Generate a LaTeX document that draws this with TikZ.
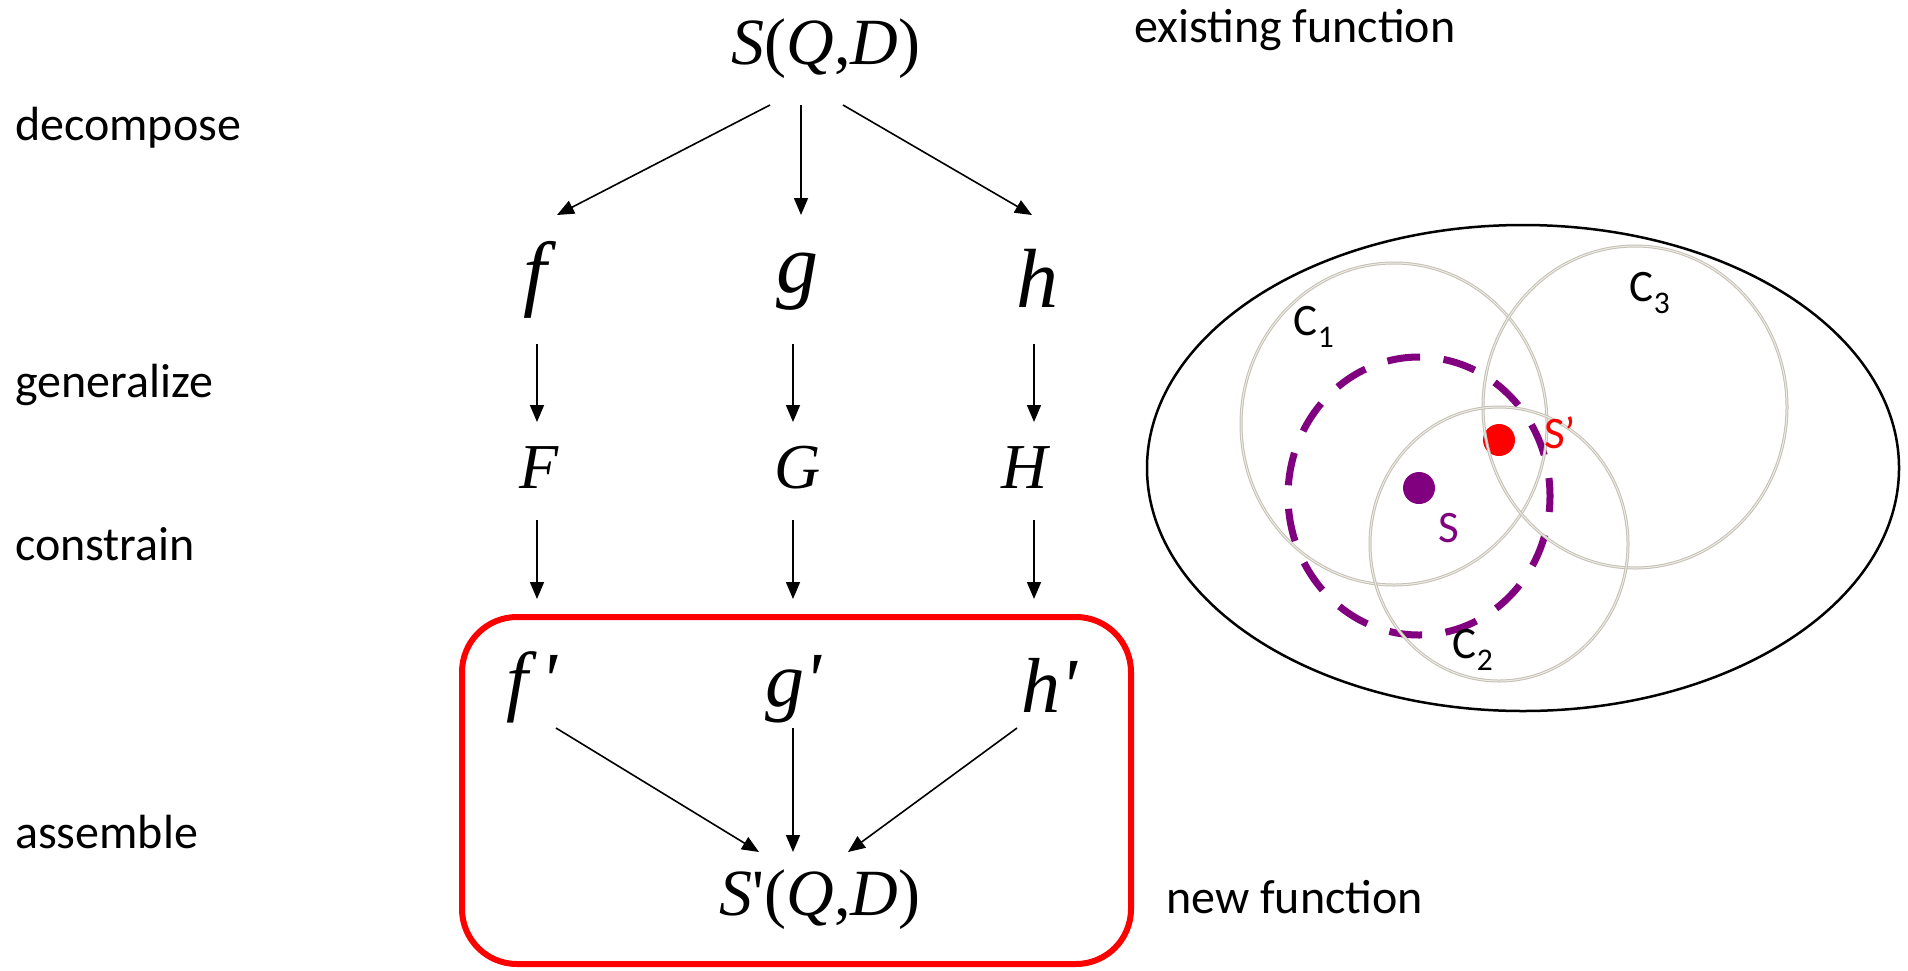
\documentclass[tikz,border=0pt]{standalone}
\usepackage{fontspec}
\setmainfont{Carlito}
\newfontfamily\timesfont{Liberation Serif}
\usetikzlibrary{calc,arrows.meta}
\definecolor{SetPurple}{RGB}{128,0,128}
\definecolor{BoxRed}{RGB}{255,0,0}
\definecolor{SetGray}{RGB}{196,192,182}
\definecolor{SetLight}{RGB}{238,236,228}
\tikzset{
  stage/.style={anchor=west,inner sep=0pt,font=\fontsize{48}{58}\selectfont},
  note/.style={anchor=west,inner sep=0pt,font=\fontsize{48}{58}\selectfont},
  whole/.style={inner sep=0pt,font=\fontsize{66}{80}\selectfont,execute at begin node=\timesfont},
  part/.style={inner sep=0pt,font=\fontsize{84}{96}\selectfont,execute at begin node=\timesfont\itshape},
  gen/.style={inner sep=0pt,font=\fontsize{64}{76}\selectfont,execute at begin node=\timesfont\itshape},
  newpart/.style={inner sep=0pt,font=\fontsize{78}{90}\selectfont,execute at begin node=\timesfont\itshape},
  arr/.style={-{Triangle[length=17pt,width=14pt]},line width=1.6pt},
  newbox/.style={draw=BoxRed,line width=6pt,rounded corners=55pt},
  space/.style={draw=black,line width=2.5pt},
  cset/.style={draw=SetGray,double=SetLight,double distance=1pt,line width=1pt},
  near/.style={draw=SetPurple,line width=7pt,dash pattern=on 33pt off 23.5pt,dash phase=17pt},
  clabel/.style={inner sep=0pt,font=\fontsize{45}{54}\selectfont},
}

\begin{document}
\begin{tikzpicture}[x=1pt,y=-1pt]
  \useasboundingbox (0,0) rectangle (1908,970);

  % stages
  \node[stage] (dec) at (15,128) {decompose};
  \node[stage] (gen) at (15,385) {generalize};
  \node[stage] (con) at (15,544) {constrain};
  \node[stage] (ass) at (15,832) {assemble};
  \node[note] (old) at (1134,30) {existing function};
  \node[note] (new) at (1166,897) {new function};

  % functions
  \node[whole] (S) at (826,49) {\textit{S}(\textit{Q},\textit{D\/})};
  \node[part] (f) at (535,280) {f};
  \node[part] (g) at (797,282) {g};
  \node[part] (h) at (1037,278) {h};
  \node[gen] (F) at (539,468) {F};
  \node[gen] (G) at (798,468) {G};
  \node[gen] (H) at (1025,468) {H};
  \node[newpart] (f2) at (532,687) {f\,\textquotesingle};
  \node[newpart] (g2) at (793,689) {g\textquotesingle};
  \node[newpart] (h2) at (1049,685) {h\textquotesingle};
  \node[whole] (S2) at (820,900) {\textit{S}\textquotesingle(\textit{Q},\textit{D\/})};

  \draw[arr] ($(S)+(-56,56)$) -- ($(f)+(22,-65)$);
  \draw[arr] ($(S)+(-25,56)$) -- ($(g)+(4,-67)$);
  \draw[arr] ($(S)+(17,56)$) -- ($(h)+(-5,-63)$);

  \draw[arr] ($(f)+(2,64)$) -- ($(F)+(-2,-46)$);
  \draw[arr] ($(g)+(-4,62)$) -- ($(G)+(-5,-46)$);
  \draw[arr] ($(h)+(-3,66)$) -- ($(H)+(9,-46)$);

  \draw[arr] ($(F)+(-2,52)$) -- ($(f2)+(5,-88)$);
  \draw[arr] ($(G)+(-5,52)$) -- ($(g2)+(0,-90)$);
  \draw[arr] ($(H)+(9,52)$) -- ($(h2)+(-15,-86)$);

  \draw[arr] ($(f2)+(24,41)$) -- ($(S2)+(-61,-48)$);
  \draw[arr] ($(g2)+(0,39)$) -- ($(S2)+(-27,-48)$);
  \draw[arr] ($(h2)+(-32,43)$) -- ($(S2)+(28,-48)$);

  \draw[newbox] (462,617) rectangle (1131,964);

  % function space
  \draw[space] (1523,468) ellipse [x radius=376, y radius=243];
  \draw[near] (1419,496) ellipse [x radius=131, y radius=139];
  \fill[SetPurple] (1419,488) circle [radius=16];
  \fill[BoxRed] (1499,440) circle [radius=16];
  \draw[cset] (1394,424) ellipse [x radius=153, y radius=161];
  \draw[cset] (1635,407) ellipse [x radius=152, y radius=161];
  \draw[cset] (1499,544) ellipse [x radius=129, y radius=137];
  \node[clabel,text=SetPurple] (s) at (1449,528) {S};
  \node[clabel,text=BoxRed] (s2) at (1560,433) {S’};
  \node[clabel] (c1) at (1314,327) {C\textsubscript{1}};
  \node[clabel] (c2) at (1473,650) {C\textsubscript{2}};
  \node[clabel] (c3) at (1650,293) {C\textsubscript{3}};
\end{tikzpicture}
\end{document}
